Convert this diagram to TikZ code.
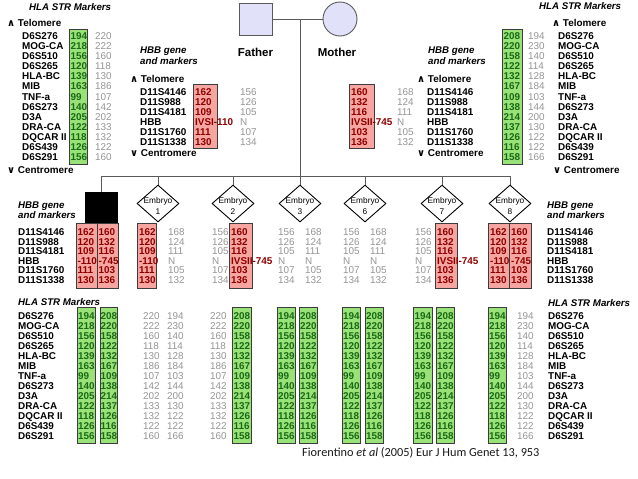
\documentclass[tikz,border=0pt]{standalone}
\usepackage{fontspec}
\setmainfont{Liberation Sans}
\newfontfamily\symf{DejaVu Sans}
\newfontfamily\citef{Carlito}
\usetikzlibrary{shapes.geometric}
\definecolor{gfill}{RGB}{152,226,120}
\definecolor{gtext}{RGB}{25,105,20}
\definecolor{rfill}{RGB}{247,165,160}
\definecolor{rtext}{RGB}{140,0,0}
\definecolor{boxline}{RGB}{60,60,60}
\definecolor{graytext}{RGB}{150,150,150}
\definecolor{lav}{RGB}{225,225,250}
\definecolor{pedline}{RGB}{90,90,90}
\tikzset{
  base/.style={inner sep=0pt, anchor=west, text height=7.1pt, text depth=0pt},
  lab/.style={base, font=\fontsize{9.9}{10}\selectfont\bfseries, text=black},
  hd/.style={base, font=\fontsize{9.7}{10}\selectfont\bfseries\itshape, text=black},
  gv/.style={base, font=\fontsize{9.9}{10}\selectfont\bfseries, text=gtext},
  rv/.style={base, font=\fontsize{9.9}{10}\selectfont\bfseries, text=rtext},
  nv/.style={base, font=\fontsize{9.9}{10}\selectfont, text=graytext},
  gbox/.style={draw=boxline, fill=gfill, line width=0.9pt},
  rbox/.style={draw=boxline, fill=rfill, line width=0.9pt},
  ped/.style={draw=pedline, line width=1pt},
  parsq/.style={draw=pedline, fill=lav, line width=0.9pt, minimum width=33pt, minimum height=32pt, inner sep=0pt},
  parci/.style={circle, draw=pedline, fill=lav, line width=0.9pt, minimum size=34pt, inner sep=0pt},
  ptitle/.style={inner sep=0pt, font=\fontsize{11.5}{12}\selectfont\bfseries, text=black},
  pbsq/.style={draw=black, fill=black, minimum width=32pt, minimum height=31pt, inner sep=0pt},
  emb/.style={diamond, draw=black, fill=white, line width=0.9pt, minimum width=42pt, minimum height=37pt, inner sep=0pt},
  embtxt/.style={inner sep=0pt, align=center, font=\fontsize{8.3}{10.5}\selectfont},
  citestyle/.style={inner sep=0pt, anchor=west, font=\citef\fontsize{12.3}{13}\selectfont, text=black!90},
}
\newcommand\valcol[6]{%
  \foreach \vv [count=\kk] in #6 {\node[#5] (#1-\kk) at (#2,{#3+(\kk-1)*#4}) {\vv};}}
\newcommand\cellbox[5]{\draw[#1] (#2,#3) rectangle (#4,#5);}
\newcommand\upmark{{\symf\bfseries ∧}}
\newcommand\downmark{{\symf\bfseries ∨}}
\def\hlaLab{D6S276,MOG-CA,D6S510,D6S265,HLA-BC,MIB,TNF-a,D6S273,D3A,DRA-CA,DQCAR II,D6S439,D6S291}
\def\hbbLab{D11S4146,D11S988,D11S4181,HBB,D11S1760,D11S1338}
\def\pA{194,218,156,120,139,163,99,140,205,122,118,126,156}
\def\pB{220,222,160,118,130,186,107,142,202,133,132,122,160}
\def\mA{208,220,158,122,132,167,109,138,214,137,126,116,158}
\def\mB{194,230,140,114,128,184,103,144,200,130,122,122,166}
\def\hpA{162,120,109,IVSI-110,111,130}
\def\hpAs{162,120,109,-110,111,130}
\def\hpB{156,126,105,N,107,134}
\def\hmA{160,132,116,IVSII-745,103,136}
\def\hmAs{160,132,116,-745,103,136}
\def\hmB{168,124,111,N,105,132}
\begin{document}
\begin{tikzpicture}[x=1pt,y=-1pt]
\useasboundingbox (0,0) rectangle (638,479);
\fill[white] (0,0) rectangle (638,479);

% ---------- pedigree ----------
\node[parsq] (father) at (255.5,19) {};
\node[parci] (mother) at (340,19) {};
\node[ptitle] (ftxt) at (255.5,52) {Father};
\node[ptitle] (mtxt) at (337,52) {Mother};
\coordinate (mar) at (300,19);
\coordinate (sib) at (300,176);
\draw[ped] (father) -- (mother);
\draw[ped] (mar) -- (sib);

\node[pbsq] (pb) at (101,207.5) {};
\foreach \n/\x/\t in {ea/158/1, eb/233/2, ec/300/3, ef/365/6, eg/442/7, eh/510/8}{
  \node[emb] (\n) at (\x,203.5) {};
  \node[embtxt] (\n T) at (\x,206) {Embryo\\\t};
}
\draw[ped] (pb.north |- sib) -- (eh.north |- sib);
\foreach \c in {pb,ea,eb,ec,ef,eg,eh} \draw[ped] (\c.north |- sib) -- (\c.north);

% ---------- top-left HLA (father) ----------
\node[hd] (tlT) at (29,7) {HLA STR Markers};
\node[lab] (tlTel) at (7,23) {\upmark\ Telomere};
\cellbox{gbox}{69}{29}{87}{164}
\valcol{tlL}{22}{36}{10.08}{lab}{\hlaLab}
\valcol{tlG}{70.5}{36}{10.08}{gv}{\pA}
\valcol{tlN}{95}{36}{10.08}{nv}{\pB}
\node[lab] (tlCen) at (7,170) {\downmark\ Centromere};

% ---------- top-right HLA (mother) ----------
\node[hd] (trT) at (539,6) {HLA STR Markers};
\node[lab] (trTel) at (552,23) {\upmark\ Telomere};
\cellbox{gbox}{502}{29}{522}{164}
\valcol{trG}{503.5}{36}{10.08}{gv}{\mA}
\valcol{trN}{528}{36}{10.08}{nv}{\mB}
\valcol{trL}{558}{36}{10.08}{lab}{\hlaLab}
\node[lab] (trCen) at (553,170) {\downmark\ Centromere};

% ---------- father HBB ----------
\node[hd] (fH1) at (140,50) {HBB gene};
\node[hd] (fH2) at (140,61) {and markers};
\node[lab] (fTel) at (130,79) {\upmark\ Telomere};
\cellbox{rbox}{193}{84}{217}{148}
\valcol{fL}{140}{92}{10}{lab}{\hbbLab}
\valcol{fR}{195}{92}{10}{rv}{\hpA}
\valcol{fN}{240}{92}{10}{nv}{\hpB}
\node[lab] (fCen) at (130,153) {\downmark\ Centromere};

% ---------- mother HBB ----------
\node[hd] (mH1) at (428,50) {HBB gene};
\node[hd] (mH2) at (428,61) {and markers};
\node[lab] (mTel) at (417,79) {\upmark\ Telomere};
\cellbox{rbox}{349}{84}{374}{148}
\valcol{mR}{351}{92}{10}{rv}{\hmA}
\valcol{mN}{397}{92}{10}{nv}{\hmB}
\valcol{mL}{427}{92}{10}{lab}{\hbbLab}
\node[lab] (mCen) at (417,153) {\downmark\ Centromere};

% ---------- children HBB ----------
\node[hd] (mlH1) at (18,205) {HBB gene};
\node[hd] (mlH2) at (18,215) {and markers};
\valcol{mlL}{18}{232}{9.5}{lab}{\hbbLab}
\node[hd] (mrH1) at (547,205) {HBB gene};
\node[hd] (mrH2) at (547,215) {and markers};
\valcol{mrL}{547}{232}{9.5}{lab}{\hbbLab}

\cellbox{rbox}{76}{223}{97}{288}
\cellbox{rbox}{97}{223}{118}{288}
\cellbox{rbox}{137}{223}{156}{288}
\cellbox{rbox}{229}{223}{252}{288}
\cellbox{rbox}{435}{223}{457}{288}
\cellbox{rbox}{488}{223}{509}{288}
\cellbox{rbox}{509}{223}{531}{288}

\valcol{pbHa}{77.5}{232}{9.5}{rv}{\hpAs}
\valcol{pbHb}{98.5}{232}{9.5}{rv}{\hmAs}
\valcol{eaHa}{139}{232}{9.5}{rv}{\hpAs}
\valcol{eaHb}{168}{232}{9.5}{nv}{\hmB}
\valcol{ebHa}{212}{232}{9.5}{nv}{\hpB}
\valcol{ebHb}{231}{232}{9.5}{rv}{\hmA}
\valcol{ecHa}{278}{232}{9.5}{nv}{\hpB}
\valcol{ecHb}{305}{232}{9.5}{nv}{\hmB}
\valcol{efHa}{343}{232}{9.5}{nv}{\hpB}
\valcol{efHb}{370}{232}{9.5}{nv}{\hmB}
\valcol{egHa}{415}{232}{9.5}{nv}{\hpB}
\valcol{egHb}{437}{232}{9.5}{rv}{\hmA}
\valcol{ehHa}{490}{232}{9.5}{rv}{\hpAs}
\valcol{ehHb}{511}{232}{9.5}{rv}{\hmAs}

% ---------- children HLA ----------
\node[hd] (blT) at (18,302) {HLA STR Markers};
\valcol{blL}{18}{316}{10}{lab}{\hlaLab}
\node[hd] (brT) at (548,303) {HLA STR Markers};
\valcol{brL}{548}{316}{10}{lab}{\hlaLab}

\cellbox{gbox}{77}{307}{95}{443}
\cellbox{gbox}{100}{307}{117}{443}
\cellbox{gbox}{232}{307}{251}{443}
\cellbox{gbox}{277}{307}{295}{443}
\cellbox{gbox}{299}{307}{317}{443}
\cellbox{gbox}{342}{307}{360}{443}
\cellbox{gbox}{365}{307}{383}{443}
\cellbox{gbox}{413}{307}{432}{443}
\cellbox{gbox}{436}{307}{454}{443}
\cellbox{gbox}{488}{307}{506}{443}

\valcol{pbSa}{78}{316}{10}{gv}{\pA}
\valcol{pbSb}{100.5}{316}{10}{gv}{\mA}
\valcol{eaSa}{143}{316}{10}{nv}{\pB}
\valcol{eaSb}{167}{316}{10}{nv}{\mB}
\valcol{ebSa}{210}{316}{10}{nv}{\pB}
\valcol{ebSb}{233.5}{316}{10}{gv}{\mA}
\valcol{ecSa}{278}{316}{10}{gv}{\pA}
\valcol{ecSb}{300}{316}{10}{gv}{\mA}
\valcol{efSa}{343}{316}{10}{gv}{\pA}
\valcol{efSb}{366}{316}{10}{gv}{\mA}
\valcol{egSa}{414.5}{316}{10}{gv}{\pA}
\valcol{egSb}{437}{316}{10}{gv}{\mA}
\valcol{ehSa}{489}{316}{10}{gv}{\pA}
\valcol{ehSb}{517}{316}{10}{nv}{\mB}

\node[citestyle] (cite) at (302,453) {Fiorentino \textit{et al} (2005) Eur J Hum Genet 13, 953};
\end{tikzpicture}
\end{document}
